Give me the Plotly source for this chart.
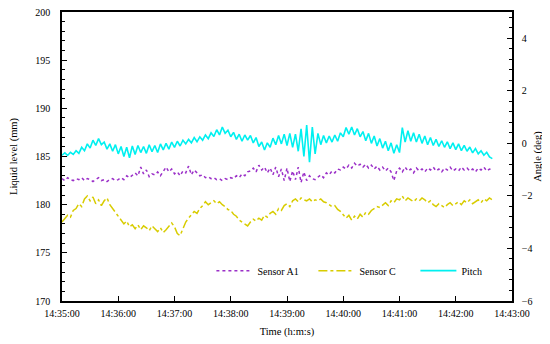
import pandas as pd
import plotly.graph_objects as go

# ---------------- data ----------------
start = "2000-01-01 14:35:00"

# Pitch (deg), sampled every 3 s from 14:35:00
pitch_step_s = 3
pitch_deg = [
    -0.45, -0.36, -0.46, -0.34, -0.42, -0.28, -0.38, -0.15, -0.28, -0.02,
    -0.18, 0.12, -0.08, 0.18, -0.05, 0.05, -0.22, -0.02, -0.30, -0.05,
    -0.40, -0.12, -0.50, -0.15, -0.55, -0.10, -0.42, -0.08, -0.35, -0.12,
    -0.38, -0.05, -0.32, -0.08, -0.35, -0.02, -0.25, 0.00, -0.22, 0.05,
    -0.15, 0.08, -0.10, 0.12, -0.02, 0.15, 0.02, 0.22, 0.06, 0.25,
    0.12, 0.32, 0.18, 0.40, 0.26, 0.52, 0.32, 0.62, 0.38, 0.50,
    0.25, 0.42, 0.15, 0.35, 0.08, 0.32, 0.12, 0.30, 0.02, 0.22,
    -0.12, 0.05, -0.25, 0.02, -0.15, 0.20, -0.05, 0.30, -0.02, 0.35,
    -0.08, 0.38, -0.15, 0.35, -0.30, 0.55, -0.50, 0.70, -0.72, 0.62,
    -0.40, 0.38, -0.05, 0.30, 0.02, 0.28, 0.05, 0.32, 0.08, 0.40,
    0.25, 0.60, 0.35, 0.62, 0.32, 0.56, 0.25, 0.45, 0.10, 0.38,
    0.00, 0.28, -0.10, 0.18, -0.18, 0.08, -0.28, 0.02, -0.38, -0.05,
    -0.35, 0.60, 0.05, 0.48, 0.08, 0.40, 0.05, 0.35, 0.00, 0.28,
    -0.05, 0.22, -0.08, 0.15, -0.12, 0.10, -0.15, 0.06, -0.20, 0.02,
    -0.24, -0.02, -0.28, -0.08, -0.30, -0.14, -0.36, -0.20, -0.40, -0.28,
    -0.45, -0.34, -0.52, -0.58,
]

# Liquid levels (mm), sampled every 3 s from 14:35:00
level_step_s = 3
sensor_a1 = [
    182.7, 182.5, 182.8, 182.6, 182.5, 182.7, 182.6, 182.8, 182.5, 182.7,
    182.6, 182.4, 182.6, 182.8, 182.5, 182.6, 182.4, 182.6, 182.7, 182.5,
    182.6, 182.8, 182.6, 183.0, 182.8, 183.1, 183.3, 183.0, 183.9, 183.2,
    183.6, 182.9, 183.2, 183.1, 183.4, 183.0, 183.5, 183.9, 183.4, 183.7,
    183.2, 183.4, 183.0, 183.5, 183.3, 184.0, 183.1, 183.6, 183.3, 183.0,
    183.1, 182.8, 182.9, 182.7, 182.8, 182.6, 182.7, 182.5, 182.7, 182.6,
    182.8, 182.7, 183.0, 182.8, 183.2, 183.0, 183.4, 183.5, 183.8, 183.4,
    184.1, 183.6, 183.9, 183.3, 183.8, 183.1, 183.9, 182.9, 183.7, 182.5,
    183.8, 182.4, 183.5, 182.6, 183.9, 182.3, 183.4, 182.5, 183.0, 182.7,
    182.6, 182.9, 183.1, 182.8, 183.3, 183.1, 183.5, 183.3, 183.7, 183.6,
    183.9, 183.7, 184.1, 183.8, 184.3, 184.0, 184.2, 183.9, 184.2, 183.8,
    184.1, 183.7, 184.0, 183.6, 183.9, 183.5, 183.8, 183.4, 182.5, 183.5,
    183.8, 183.4, 183.9, 183.5, 183.7, 183.3, 183.8, 183.5, 183.7, 183.4,
    183.8, 183.6, 183.9, 183.5, 183.7, 183.4, 183.8, 183.6, 183.9, 183.5,
    183.7, 183.5, 183.9, 183.6, 183.8, 183.5, 183.7, 183.4, 183.8, 183.6,
    183.9, 183.5, 183.7, 183.6,
]
sensor_c = [
    178.2, 178.6, 178.9, 178.7, 179.4, 179.6, 180.1, 179.8, 180.6, 180.9,
    180.4, 180.8, 180.1, 180.5, 179.9, 180.4, 180.7, 180.0, 179.6, 179.2,
    178.7, 178.4, 178.0, 178.3, 177.7, 177.9, 177.5, 177.9, 177.4, 177.8,
    177.6, 177.3, 177.8, 177.5, 177.2, 177.6, 177.1, 177.4, 177.8, 178.1,
    177.7, 177.0, 176.8, 177.6, 178.2, 178.6, 178.9, 179.3, 179.1, 179.6,
    179.9, 180.3, 180.0, 180.2, 180.4, 180.1, 180.3, 180.0, 179.8, 179.5,
    179.4, 179.0, 178.8, 178.4, 178.2, 178.0, 177.8, 178.2, 178.5, 178.3,
    178.6, 178.4, 178.9, 178.7, 179.1, 179.3, 179.0, 179.6, 179.4, 179.9,
    180.1, 179.8, 180.4, 180.6, 180.3, 180.7, 180.5, 180.4, 180.6, 180.3,
    180.5, 180.4, 180.6, 180.3, 180.2, 180.0, 179.8, 179.9, 179.5, 179.3,
    179.0, 178.6, 178.9, 178.4, 178.8, 178.5, 179.0, 178.7, 179.2, 179.0,
    179.4, 179.6, 179.8, 179.7, 180.0, 180.2, 179.9, 180.4, 180.2, 180.6,
    180.5, 180.9, 180.4, 180.7, 180.5, 180.3, 180.6, 180.4, 180.7, 180.5,
    180.2, 180.4, 180.0, 179.8, 180.1, 179.9, 179.7, 180.0, 180.2, 179.9,
    180.1, 180.3, 180.0, 180.4, 180.2, 180.5, 180.1, 180.3, 180.5, 180.2,
    180.6, 180.4, 180.7, 180.5,
]

x_range = ["2000-01-01 14:35:00", "2000-01-01 14:43:00"]
left_range = [170, 200]
right_range = [-6, 5]

# ---------------- figure ----------------
t0 = pd.Timestamp(start)
t_pitch = [t0 + pd.Timedelta(seconds=i * pitch_step_s) for i in range(len(pitch_deg))]
t_level = [t0 + pd.Timedelta(seconds=i * level_step_s) for i in range(len(sensor_a1))]

FONT = "Liberation Serif"

fig = go.Figure()
fig.add_trace(go.Scatter(
    x=t_level, y=sensor_a1, name="Sensor A1", mode="lines",
    line=dict(color="#9B30C8", width=1.5, dash="dot"),
))
fig.add_trace(go.Scatter(
    x=t_level, y=sensor_c, name="Sensor C", mode="lines",
    line=dict(color="#D8CC00", width=1.5, dash="dashdot"),
))
fig.add_trace(go.Scatter(
    x=t_pitch, y=pitch_deg, name="Pitch", mode="lines", yaxis="y2",
    line=dict(color="#00F0F0", width=1.6),
))

# the page body has an 8 px margin, so the figure is 8 px smaller each way
fig.update_layout(
    width=542, height=336,
    margin=dict(l=54, r=38, t=4, b=43),
    paper_bgcolor="white", plot_bgcolor="white",
    font=dict(family=FONT, size=10, color="black"),
    showlegend=True,
    legend=dict(
        orientation="h", x=0.332, y=0.105, xanchor="left", yanchor="middle",
        bgcolor="rgba(255,255,255,0)", font=dict(family=FONT, size=10),
        entrywidth=51, entrywidthmode="pixels", itemwidth=36,
    ),
    xaxis=dict(
        type="date", range=x_range, tickformat="%H:%M:%S", dtick=60000,
        tick0="2000-01-01 14:35:00", automargin=False,
        showline=True, linecolor="black", linewidth=1.5, mirror=True,
        ticks="inside", ticklen=5, tickcolor="black", showgrid=False,
        zeroline=False, ticklabelstandoff=2, ticklabeloverflow="allow",
        title=dict(text="Time (h:m:s)", standoff=10, font=dict(family=FONT, size=10.5)),
    ),
    yaxis=dict(
        range=left_range, dtick=5, tick0=170, automargin=False,
        showline=True, linecolor="black", linewidth=1.5,
        ticks="inside", ticklen=5, tickcolor="black", showgrid=False,
        zeroline=False, ticklabelstandoff=8, ticklabeloverflow="allow",
        minor=dict(dtick=1, ticks="inside", ticklen=3, tickcolor="black", showgrid=False),
        title=dict(text="Liquid level (mm)", standoff=16, font=dict(family=FONT, size=10.5)),
    ),
    yaxis2=dict(
        overlaying="y", side="right", range=right_range, dtick=2, tick0=0,
        automargin=False,
        showline=True, linecolor="black", linewidth=1.5,
        ticks="inside", ticklen=5, tickcolor="black", showgrid=False,
        zeroline=False, ticklabelstandoff=6, ticklabeloverflow="allow",
        minor=dict(dtick=0.4, tick0=-6, ticks="inside", ticklen=3, tickcolor="black", showgrid=False),
        title=dict(text="Angle (deg)", standoff=2, font=dict(family=FONT, size=10.5)),
    ),
)

fig.write_html("out.html")
